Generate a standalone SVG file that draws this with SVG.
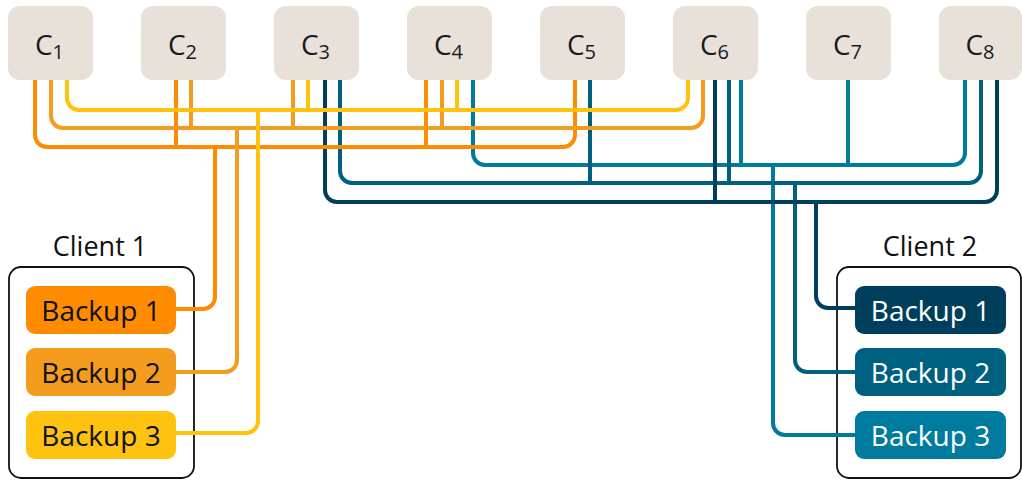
<svg xmlns="http://www.w3.org/2000/svg" width="1022" height="480" viewBox="0 0 1022 480">
<style>
.node rect{fill:#E7E1DA;}
.node text{font-family:"Open Sans","Noto Sans",sans-serif;font-size:28px;fill:#1a1a1a;text-anchor:middle;}
.sub{font-size:20px;}
.client{fill:#fff;stroke:#111;stroke-width:1.8;}
.clabel{font-family:"Open Sans","Noto Sans",sans-serif;font-size:27px;fill:#111;text-anchor:middle;}
.btxt{font-family:"Open Sans","Noto Sans",sans-serif;font-size:28px;text-anchor:middle;}
.dark{fill:#111;}
.light{fill:#fff;}
#connectors path{fill:none;stroke-width:4;}
.o1{stroke:#FF8C00;}
.o2{stroke:#F39C1E;}
.o3{stroke:#FFC20E;}
.b1{stroke:#003F5C;}
.b2{stroke:#00607F;}
.b3{stroke:#007BA0;}
</style>
<rect width="1022" height="480" fill="#fff"/>
<g id="client1"><rect class="client" x="9" y="267" width="185" height="211" rx="12"/><text class="clabel" x="100" y="256">Client 1</text></g>
<g id="client2"><rect class="client" x="837" y="267" width="184" height="211" rx="12"/><text class="clabel" x="930" y="256">Client 2</text></g>
<g id="connectors">
<path class="b3" d="M473,80 V153 A12,12 0 0 0 485,165 H953 A12,12 0 0 0 965,153 V80 M741,80 V165 M848,80 V165 M773,165 V423 A12,12 0 0 0 785,435 H855"/>
<path class="b2" d="M340,80 V171 A12,12 0 0 0 352,183 H969 A12,12 0 0 0 981,171 V80 M590,80 V183 M729,80 V183 M795,183 V360 A12,12 0 0 0 807,372 H855"/>
<path class="b1" d="M325,80 V190 A12,12 0 0 0 337,202 H985 A12,12 0 0 0 997,190 V80 M715,80 V202 M816,202 V296 A12,12 0 0 0 828,308 H855"/>
<path class="o1" d="M35,80 V135 A12,12 0 0 0 47,147 H563 A12,12 0 0 0 575,135 V80 M176,80 V147 M426,80 V147 M215,147 V297 A12,12 0 0 1 203,309 H176"/>
<path class="o2" d="M51,80 V116 A12,12 0 0 0 63,128 H691 A12,12 0 0 0 703,116 V80 M191,80 V128 M293,80 V128 M442,80 V128 M237,128 V360 A12,12 0 0 1 225,372 H176"/>
<path class="o3" d="M67,80 V98 A12,12 0 0 0 79,110 H676 A12,12 0 0 0 688,98 V80 M308,80 V110 M457,80 V110 M258,110 V421 A12,12 0 0 1 246,433 H176"/>
</g>
<g id="c1" class="node"><rect x="8" y="6" width="85" height="74" rx="12"/><text x="49.5" y="55">C<tspan class="sub" dy="4">1</tspan></text></g>
<g id="c2" class="node"><rect x="141" y="6" width="85" height="74" rx="12"/><text x="182.5" y="55">C<tspan class="sub" dy="4">2</tspan></text></g>
<g id="c3" class="node"><rect x="274" y="6" width="85" height="74" rx="12"/><text x="315.5" y="55">C<tspan class="sub" dy="4">3</tspan></text></g>
<g id="c4" class="node"><rect x="407" y="6" width="85" height="74" rx="12"/><text x="448.5" y="55">C<tspan class="sub" dy="4">4</tspan></text></g>
<g id="c5" class="node"><rect x="540" y="6" width="85" height="74" rx="12"/><text x="581.5" y="55">C<tspan class="sub" dy="4">5</tspan></text></g>
<g id="c6" class="node"><rect x="673" y="6" width="85" height="74" rx="12"/><text x="714.5" y="55">C<tspan class="sub" dy="4">6</tspan></text></g>
<g id="c7" class="node"><rect x="806" y="6" width="85" height="74" rx="12"/><text x="847.5" y="55">C<tspan class="sub" dy="4">7</tspan></text></g>
<g id="c8" class="node"><rect x="939" y="6" width="83" height="74" rx="12"/><text x="980" y="55">C<tspan class="sub" dy="4">8</tspan></text></g>
<g id="l-backup1"><rect x="26" y="286" width="150" height="48" rx="9" fill="#FF8C00"/><text class="btxt dark" x="101" y="321">Backup 1</text></g>
<g id="l-backup2"><rect x="26" y="348" width="150" height="48" rx="9" fill="#F39C1E"/><text class="btxt dark" x="101" y="383">Backup 2</text></g>
<g id="l-backup3"><rect x="26" y="411" width="150" height="48" rx="9" fill="#FFC20E"/><text class="btxt dark" x="101" y="446">Backup 3</text></g>
<g id="r-backup1"><rect x="855" y="286" width="151" height="48" rx="9" fill="#003F5C"/><text class="btxt light" x="930.5" y="321">Backup 1</text></g>
<g id="r-backup2"><rect x="855" y="348" width="151" height="48" rx="9" fill="#00607F"/><text class="btxt light" x="930.5" y="383">Backup 2</text></g>
<g id="r-backup3"><rect x="855" y="411" width="151" height="48" rx="9" fill="#007BA0"/><text class="btxt light" x="930.5" y="446">Backup 3</text></g>
</svg>
